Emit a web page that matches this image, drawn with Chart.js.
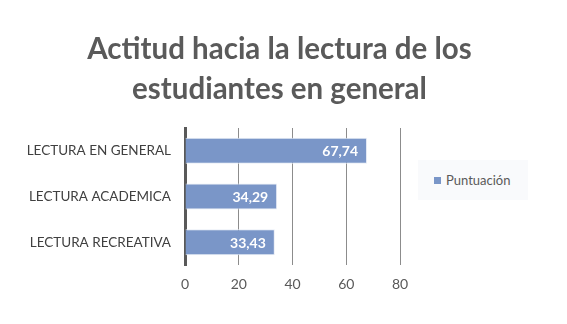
<!DOCTYPE html>
<html>
<head>
<meta charset="utf-8">
<script src="https://cdn.jsdelivr.net/npm/chart.js@4.4.0/dist/chart.umd.min.js"></script>
<style>
  html, body { margin: 0; padding: 0; background: #fff; }
  #wrap { position: relative; width: 567px; height: 324px; }
  #title {
    position: absolute; left: -4px; top: 28px; width: 567px; text-align: center;
    font-family: Lato, sans-serif; font-weight: bold; font-size: 29.5px; line-height: 40px; color: #5a5a5a;
  }
  #legend {
    position: absolute; left: 418px; top: 160px; width: 110px; height: 40px;
    background: #f9fafc; font-family: Lato, sans-serif; font-size: 13px; color: #595959;
  }
  #legend span.box {
    position: absolute; left: 16px; top: 17px; width: 7px; height: 7px; background: #7a96c8;
  }
  #legend span.txt { position: absolute; left: 28px; top: 12px; }
</style>
</head>
<body>
<div id="wrap">
  <canvas id="chart" width="567" height="324"></canvas>
  <div id="title">Actitud hacia la lectura de los<br>estudiantes en general</div>
  <div id="legend"><span class="box"></span><span class="txt">Puntuación</span></div>
</div>
<script>
var categories = ["LECTURA EN GENERAL", "LECTURA ACADEMICA", "LECTURA RECREATIVA"];
var puntuacion = [67.74, 34.29, 33.43];
var xTicks = [0, 20, 40, 60, 80];

var barLabels = {
    id: 'barLabels',
    afterDatasetsDraw: function(chart) {
        var ctx = chart.ctx;
        var meta = chart.getDatasetMeta(0);
        ctx.save();
        ctx.font = 'bold 14px Lato';
        ctx.fillStyle = '#ffffff';
        ctx.textAlign = 'right';
        ctx.textBaseline = 'middle';
        for (var i = 0; i < meta.data.length; i++) {
            var bar = meta.data[i];
            var txt = puntuacion[i].toFixed(2).replace('.', ',');
            ctx.fillText(txt, bar.x - 9, bar.y + 1);
        }
        ctx.restore();
    }
};

var chart = new Chart(document.getElementById('chart').getContext('2d'), {
    type: 'bar',
    data: {
        labels: categories,
        datasets: [{
            label: 'Puntuación',
            data: puntuacion,
            backgroundColor: '#7a96c8',
            borderColor: '#e8edf6',
            borderWidth: 1,
            categoryPercentage: 1,
            barPercentage: 0.57
        }]
    },
    options: {
        indexAxis: 'y',
        responsive: false,
        animation: false,
        layout: { padding: { left: 0, right: 167, top: 128, bottom: 24 } },
        plugins: {
            legend: { display: false },
            tooltip: { enabled: false },
            title: { display: false }
        },
        scales: {
            x: {
                min: 0,
                max: 80,
                afterBuildTicks: function(scale) {
                    scale.ticks = xTicks.map(function(v) { return { value: v }; });
                },
                afterFit: function(scale) { scale.height = 35; },
                grid: { color: '#8c8c8c', lineWidth: 1, drawTicks: false },
                border: { display: false },
                ticks: { color: '#595959', padding: 11, font: { family: 'Lato', size: 14 } }
            },
            y: {
                afterFit: function(scale) { scale.width = 185; },
                grid: { display: false, drawTicks: false },
                border: { color: '#595959', width: 3 },
                ticks: { color: '#404040', padding: 14, font: { family: 'Lato', size: 13.5 } }
            }
        }
    },
    plugins: [barLabels]
});
</script>
</body>
</html>
